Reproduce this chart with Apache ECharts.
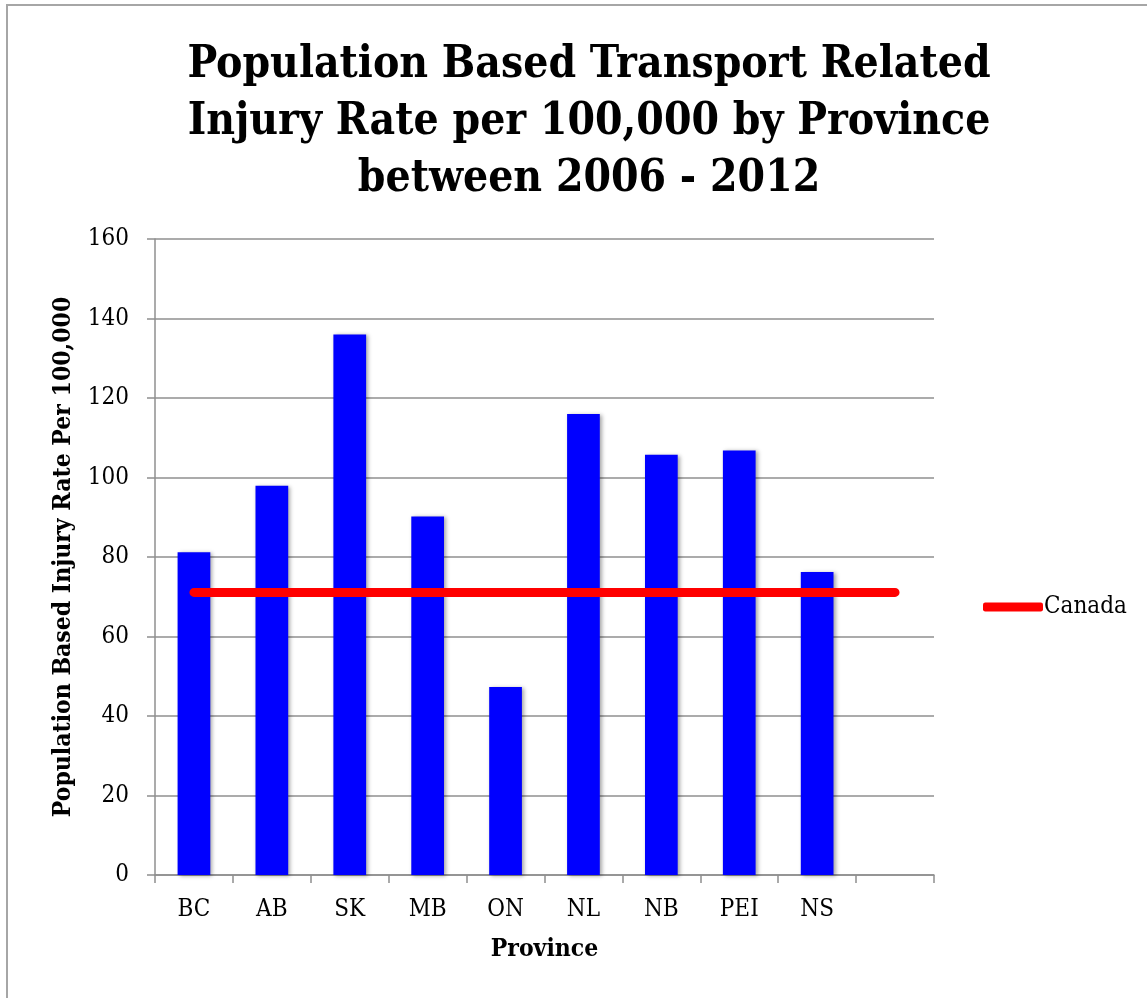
<!DOCTYPE html>
<html lang="en">
<head>
    <meta charset="UTF-8">
    <title>Transport Related Injury Rate</title>
    <style>
    html, body { margin: 0; padding: 0; background: #fff; }
    #main { width: 1147px; height: 998px; }
    </style>
</head>
<body>
    <div id="main"></div>
    <script src="https://cdn.jsdelivr.net/npm/echarts@6/dist/echarts.min.js"></script>
    <script>
    // data
    var provinces = ['BC', 'AB', 'SK', 'MB', 'ON', 'NL', 'NB', 'PEI', 'NS', ''];
    var rates = [81.2, 97.9, 136, 90.2, 47.3, 116, 105.7, 106.8, 76.2, null];
    var canada = [71.1, 71.1, 71.1, 71.1, 71.1, 71.1, 71.1, 71.1, 71.1, 71.1];
    var yTicks = { min: 0, max: 160, step: 20 };

    var serif = "'DejaVu Serif Condensed', 'DejaVu Serif', serif";
    var gridColor = '#8f8f8f';

    var myChart = echarts.init(document.getElementById('main'));
    var option = {
        backgroundColor: '#fff',
        animation: false,
        title: {
            text: 'Population Based Transport Related\nInjury Rate per 100,000 by Province\nbetween 2006 - 2012',
            left: 584,
            textAlign: 'center',
            top: 32,
            textStyle: {
                fontFamily: serif,
                fontWeight: 'bold',
                fontSize: 44,
                lineHeight: 57,
                color: '#000'
            }
        },
        graphic: [{
            type: 'rect',
            shape: { x: 7, y: 5, width: 1200, height: 1100 },
            style: { fill: 'none', stroke: '#a6a6a6', lineWidth: 2 },
            silent: true
        }],
        legend: {
            data: ['Canada'],
            left: 978,
            top: 590,
            icon: 'roundRect',
            itemWidth: 60,
            itemHeight: 9,
            itemGap: 0,
            textStyle: {
                fontFamily: serif,
                fontSize: 24,
                color: '#000',
                padding: [0, 0, 0, -4]
            }
        },
        grid: {
            left: 155,
            right: 213,
            top: 239,
            bottom: 123
        },
        xAxis: {
            type: 'category',
            data: provinces,
            name: 'Province',
            nameLocation: 'middle',
            nameGap: 62,
            nameTextStyle: {
                fontFamily: serif,
                fontWeight: 'bold',
                fontSize: 24.5,
                color: '#000'
            },
            axisLine: { lineStyle: { color: gridColor, width: 1.5 } },
            axisTick: { show: true, length: 8, lineStyle: { color: gridColor, width: 1.5 } },
            axisLabel: {
                margin: 23,
                fontFamily: serif,
                fontSize: 24,
                color: '#000'
            }
        },
        yAxis: {
            type: 'value',
            min: yTicks.min,
            max: yTicks.max,
            interval: yTicks.step,
            name: 'Population Based Injury Rate Per 100,000',
            nameLocation: 'middle',
            nameGap: 79,
            nameTextStyle: {
                fontFamily: serif,
                fontWeight: 'bold',
                fontSize: 24.5,
                color: '#000'
            },
            axisLine: { show: true, lineStyle: { color: gridColor, width: 1.5 } },
            axisTick: { show: true, length: 8, lineStyle: { color: gridColor, width: 1.5 } },
            axisLabel: {
                margin: 26,
                fontFamily: serif,
                fontSize: 24,
                color: '#000'
            },
            splitLine: { lineStyle: { color: gridColor, width: 1.5 } }
        },
        series: [{
            name: 'Rate',
            type: 'bar',
            data: rates,
            barWidth: '42%',
            itemStyle: {
                color: '#0000ff',
                shadowBlur: 4,
                shadowOffsetX: 2,
                shadowOffsetY: 1,
                shadowColor: 'rgba(0,0,0,0.35)'
            }
        }, {
            name: 'Canada',
            type: 'line',
            data: canada,
            showSymbol: false,
            symbol: 'none',
            lineStyle: { color: '#ff0000', width: 9, cap: 'round' },
            itemStyle: { color: '#ff0000' },
            z: 5
        }]
    };
    myChart.setOption(option);
    </script>
</body>
</html>
